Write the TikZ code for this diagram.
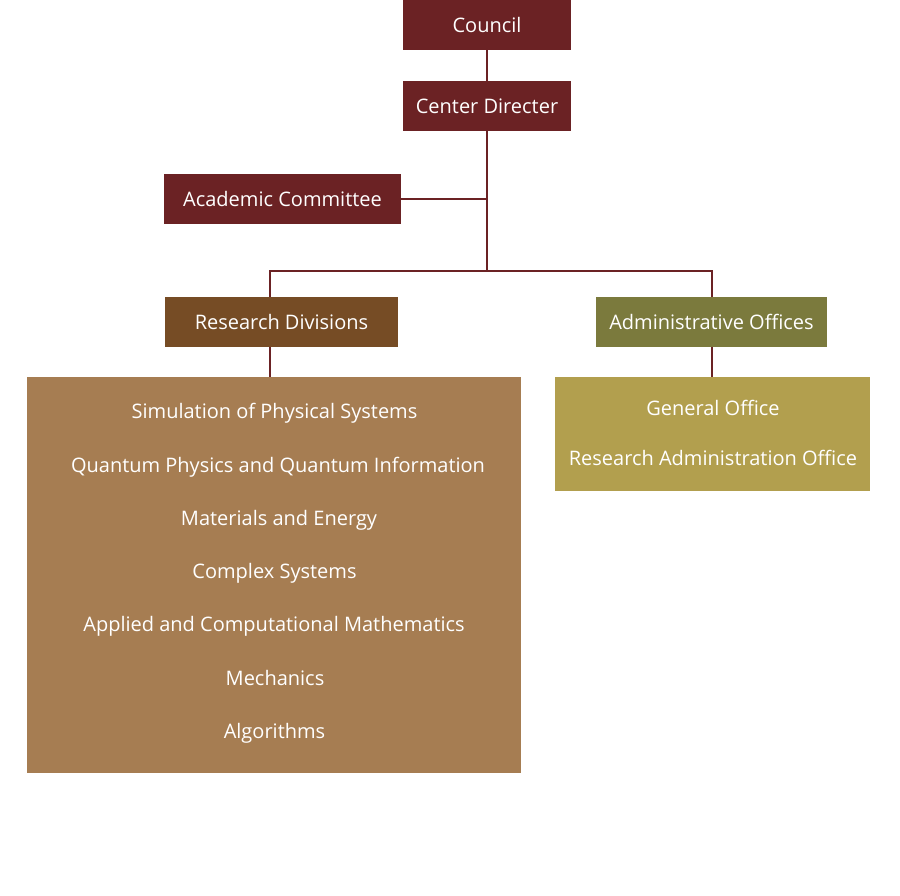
\documentclass[tikz,border=0pt]{standalone}
\usepackage{fontspec}
\setmainfont{Open Sans}
\definecolor{wine}{HTML}{6B2224}
\definecolor{bark}{HTML}{764C25}
\definecolor{olive}{HTML}{7B7A3D}
\definecolor{tan}{HTML}{A67D52}
\definecolor{mustard}{HTML}{B29F4E}
\begin{document}
\begin{tikzpicture}[
  x=1pt, y=-1pt,
  unit/.style={rectangle, minimum width=168pt, minimum height=50pt, inner sep=0pt,
               fill=wine, text=white, font=\fontsize{20}{24}\selectfont},
  group/.style={rectangle, minimum width=233pt, minimum height=50pt, inner sep=0pt,
                text=white, font=\fontsize{20}{24}\selectfont},
  listbox/.style={rectangle, inner sep=0pt},
  item/.style={text=white, font=\fontsize{20}{24}\selectfont, inner sep=0pt,
               text height=14pt, text depth=0pt},
  conn/.style={draw=wine, line width=2pt}
]
\useasboundingbox (0,0) rectangle (900,895);

% Top of the chart
\node[unit] (council)  at (487,25)  {Council};
\node[unit] (directer) at (487,106) {Center Directer};
\node[unit, minimum width=237pt] (acad) at (282.5,199) {Academic Committee};

% Branches
\coordinate (split) at (487,271);
\coordinate (tapL)  at (270,271);
\node[group, fill=bark]  (resdiv) at (281.5,322) {Research Divisions};
\node[group, fill=olive, minimum width=231pt] (adm) at (711.5,322) {Administrative Offices};

% Lists
\node[listbox, fill=tan, minimum width=494pt, minimum height=396pt] (divlist) at (274,575) {};
\node[listbox, fill=mustard, minimum width=315pt, minimum height=114pt] (admlist) at (712.5,434) {};

\node[item] (d1) at (274.5,411) {Simulation of Physical Systems};
\node[item] (d2) at (278,465)   {Quantum Physics and Quantum Information};
\node[item] (d3) at (279,518)   {Materials and Energy};
\node[item] (d4) at (274.5,571) {Complex Systems};
\node[item] (d5) at (274,624)   {Applied and Computational Mathematics};
\node[item] (d6) at (275,678)   {Mechanics};
\node[item] (d7) at (274.5,731) {Algorithms};

\node[item] (o1) at (713,408) {General Office};
\node[item] (o2) at (713,458) {Research Administration Office};

% Connectors
\draw[conn] (council) -- (directer);
\draw[conn] (directer.south) -- (split);
\draw[conn] (acad.east) -- (acad.east -| split);
\draw[conn] (resdiv.north -| tapL) |- (split) -| (adm.north);
\draw[conn] (resdiv.south -| tapL) -- (divlist.north -| tapL);
\draw[conn] (adm.south) -- (adm.south |- admlist.north);
\end{tikzpicture}
\end{document}
